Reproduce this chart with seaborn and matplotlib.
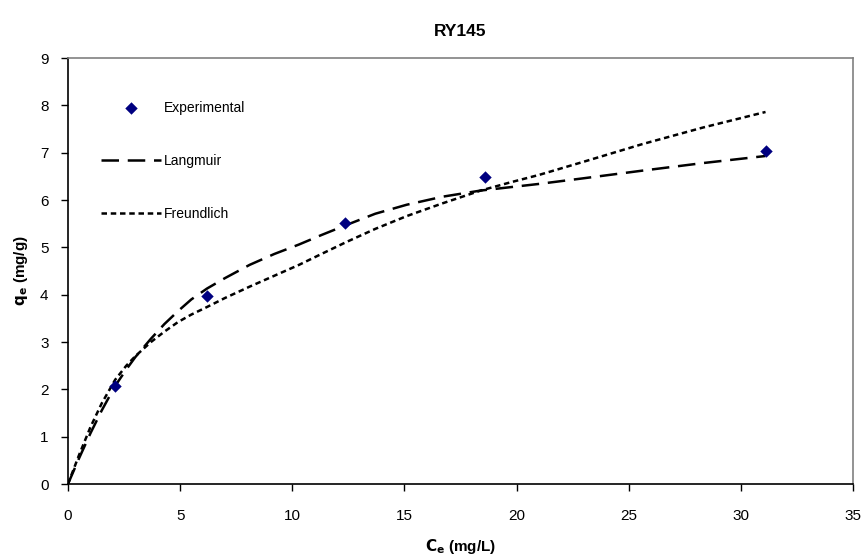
import matplotlib
matplotlib.use("Agg")
import matplotlib.pyplot as plt
import seaborn as sns
import pandas as pd

sns.set_theme(style="white")
plt.rcParams["font.family"] = ["Liberation Sans", "DejaVu Sans"]
plt.rcParams["text.color"] = "black"
plt.rcParams["axes.labelcolor"] = "black"
plt.rcParams["xtick.color"] = "black"
plt.rcParams["ytick.color"] = "black"

# Experimental equilibrium data
ce_exp = [2.1, 6.2, 12.35, 18.6, 31.1]
qe_exp = [2.08, 3.97, 5.51, 6.48, 7.03]

# Model curves
ce_lang = [0, 0.5, 1.0, 1.5, 2.1, 2.6, 3.0, 3.7, 4.3, 4.9, 5.5, 6.2, 7.0, 8.1, 9.2,
           10.3, 11.3, 12.4, 13.7, 15.1, 16.7, 18.4, 19.7, 21.0, 23.0, 25.6, 28.3, 31.1]
qe_lang = [0, 0.55, 1.07, 1.55, 2.07, 2.42, 2.68, 3.07, 3.38, 3.65, 3.9, 4.13, 4.35, 4.63, 4.86,
           5.06, 5.26, 5.47, 5.71, 5.9, 6.07, 6.2, 6.27, 6.34, 6.46, 6.62, 6.78, 6.93]

ce_freu = [0, 0.5, 1.0, 1.5, 2.1, 2.6, 3.0, 3.7, 4.3, 4.9, 5.5, 6.2, 7.0, 8.1, 9.2,
           10.3, 11.3, 12.4, 13.7, 15.1, 16.7, 18.4, 19.7, 21.0, 23.0, 25.6, 28.3, 31.1]
qe_freu = [0, 0.62, 1.2, 1.7, 2.2, 2.5, 2.7, 3.0, 3.22, 3.42, 3.58, 3.74, 3.93, 4.17, 4.4,
           4.63, 4.86, 5.11, 5.39, 5.66, 5.93, 6.2, 6.37, 6.53, 6.81, 7.18, 7.53, 7.86]

df_exp = pd.DataFrame({"Ce": ce_exp, "qe": qe_exp})
df_lang = pd.DataFrame({"Ce": ce_lang, "qe": qe_lang})
df_freu = pd.DataFrame({"Ce": ce_freu, "qe": qe_freu})

fig = plt.figure(figsize=(8.66, 5.6), dpi=100)
ax = fig.add_axes([0.0785, 0.1357, 0.9065, 0.7607])

sns.scatterplot(data=df_exp, x="Ce", y="qe", ax=ax, marker="D", s=40,
                color="#000080", edgecolor="#000080", linewidth=0,
                label="Experimental", zorder=4)
sns.lineplot(data=df_lang, x="Ce", y="qe", ax=ax, sort=False, estimator=None,
             color="black", linewidth=1.8, label="Langmuir", zorder=3)
sns.lineplot(data=df_freu, x="Ce", y="qe", ax=ax, sort=False, estimator=None,
             color="black", linewidth=1.8, label="Freundlich", zorder=3)
ax.lines[0].set_dashes((7, 3.5))
ax.lines[1].set_dashes((2.2, 1.5))

ax.set_xlim(0, 35)
ax.set_ylim(0, 9)
ax.set_xticks(range(0, 36, 5))
ax.set_yticks(range(0, 10, 1))
ax.tick_params(axis="both", direction="out", length=5, width=1, color="black",
               labelsize=11, bottom=True, left=True)
ax.tick_params(axis="x", pad=13)
ax.tick_params(axis="y", pad=9)

for side in ("left", "bottom"):
    ax.spines[side].set_color("black")
    ax.spines[side].set_linewidth(1.2)
for side in ("top", "right"):
    ax.spines[side].set_color("#808080")
    ax.spines[side].set_linewidth(1.2)

ax.set_xlabel(r"$\mathbf{C_e}$ (mg/L)", fontsize=11, fontweight="bold", labelpad=10)
ax.set_ylabel(r"$\mathbf{q_e}$ (mg/g)", fontsize=11, fontweight="bold", labelpad=7)
ax.set_title("RY145", fontsize=12.5, fontweight="bold", pad=16)

handles, labels = ax.get_legend_handles_labels()
leg = ax.legend(handles, labels, loc="upper left", bbox_to_anchor=(0.035, 0.912),
                frameon=False, fontsize=10, handlelength=4.3, handletextpad=0.2,
                labelspacing=2.8, borderaxespad=0)

fig.savefig("out.png", dpi=100, facecolor="white")
